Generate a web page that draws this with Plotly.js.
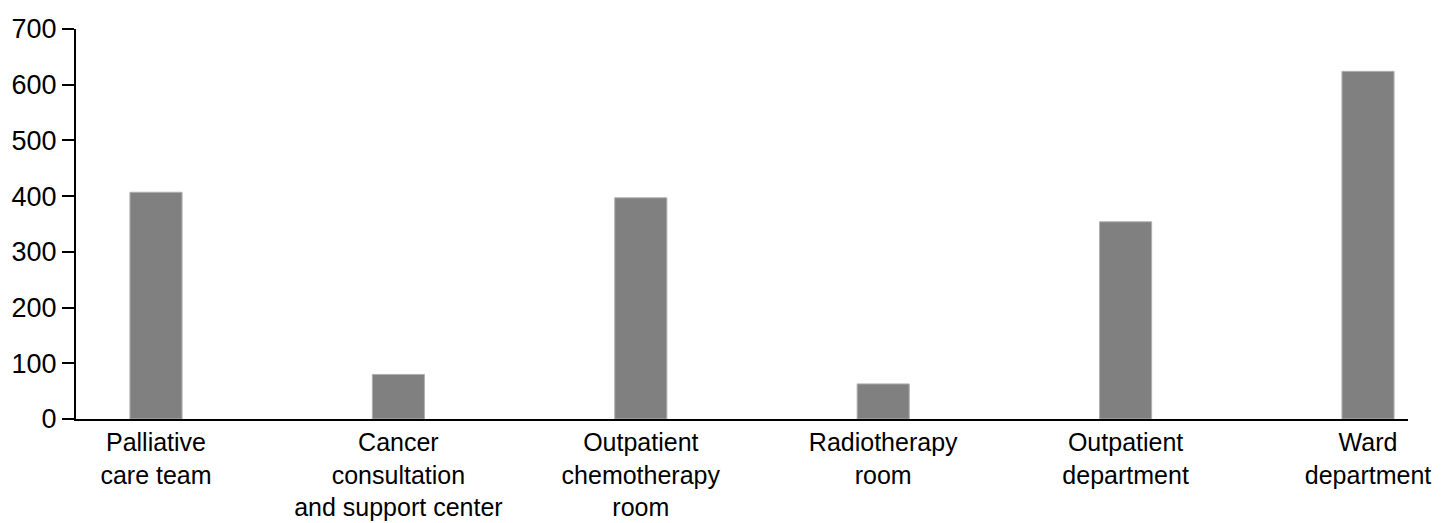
<!DOCTYPE html>
<html>
<head>
<meta charset="utf-8">
<script src="https://cdn.plot.ly/plotly-3.0.1.min.js"></script>
<style>html,body{margin:0;padding:0;background:#fff;}#chart{width:1455px;height:523px;}</style>
</head>
<body>
<div id="chart"></div>
<script>
const categories = [
  "Palliative<br>care team",
  "Cancer<br>consultation<br>and support center",
  "Outpatient<br>chemotherapy<br>room",
  "Radiotherapy<br>room",
  "Outpatient<br>department",
  "Ward<br>department"
];
const values = [407, 80, 397, 63, 354, 624];
const yTicks = [0, 100, 200, 300, 400, 500, 600, 700];

const trace = {
  type: "bar",
  x: categories,
  y: values,
  width: 0.215,
  marker: {color: "#808080", line: {color: "#b0b0b0", width: 1}},
  hoverinfo: "x+y"
};

const layout = {
  width: 1455,
  height: 523,
  margin: {l: 76, r: 47, t: 29, b: 104},
  paper_bgcolor: "#ffffff",
  plot_bgcolor: "#ffffff",
  showlegend: false,
  font: {family: "Liberation Sans, Arial, sans-serif", size: 25, color: "#000"},
  xaxis: {
    type: "category",
    range: [-0.33, 5.165],
    showline: true,
    linecolor: "#000",
    linewidth: 2,
    ticks: "",
    showgrid: false,
    zeroline: false,
    tickfont: {size: 25, color: "#000"},
    tickangle: 0,
    automargin: false
  },
  yaxis: {
    range: [0, 700],
    tickvals: yTicks,
    ticktext: yTicks.map(String),
    showline: true,
    linecolor: "#000",
    linewidth: 2,
    ticks: "outside",
    ticklen: 12,
    tickwidth: 2,
    tickcolor: "#000",
    showgrid: false,
    zeroline: false,
    tickfont: {size: 27, color: "#000"},
    automargin: false
  }
};

Plotly.newPlot("chart", [trace], layout, {displayModeBar: false, staticPlot: true});
</script>
</body>
</html>
